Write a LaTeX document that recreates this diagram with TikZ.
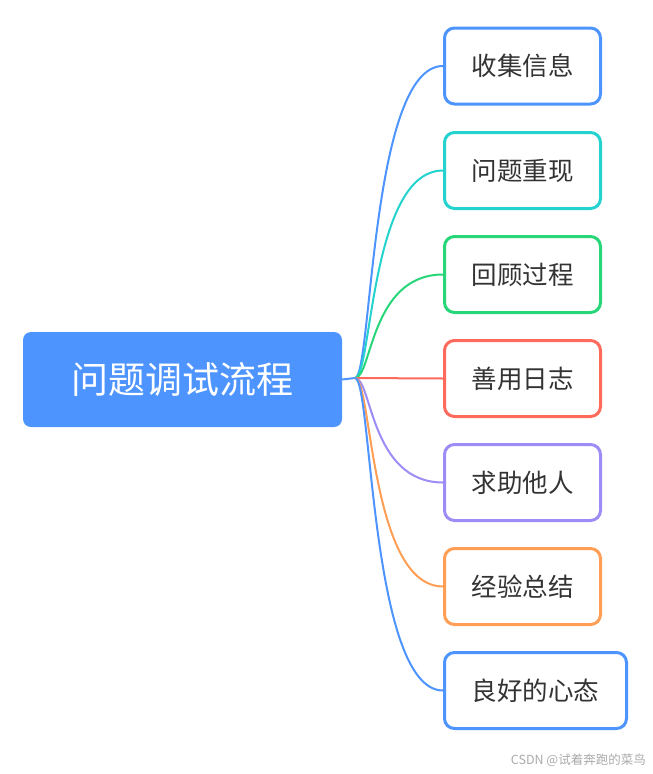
\documentclass[tikz,border=0pt]{standalone}
\usepackage{fontspec}
\setmainfont{Noto Sans CJK SC}
\newfontfamily\cjk{Noto Sans CJK SC}
\definecolor{cblue}{RGB}{77,148,255}
\definecolor{ccyan}{RGB}{36,210,206}
\definecolor{cgreen}{RGB}{40,214,122}
\definecolor{cred}{RGB}{255,106,92}
\definecolor{cpurple}{RGB}{156,140,246}
\definecolor{corange}{RGB}{255,158,84}
\definecolor{ctext}{RGB}{51,51,51}
\definecolor{cwm}{RGB}{170,170,170}
\tikzset{
  rootbox/.style={rectangle, rounded corners=8pt, fill=cblue, draw=none, minimum width=319pt, minimum height=95pt, text=white, font=\cjk\fontsize{37}{42}\selectfont, inner sep=0pt},
  childbox/.style={rectangle, rounded corners=10pt, draw=#1, line width=3pt, fill=white, minimum width=156pt, minimum height=76pt, text=ctext, font=\cjk\fontsize{25.5}{30}\selectfont, inner sep=0pt, anchor=west},
  link/.style={draw=#1, line width=2pt},
}
\begin{document}
\begin{tikzpicture}[x=1pt,y=-1pt]
\useasboundingbox (0,0) rectangle (653,774);
\node[rootbox] (root) at (182.5,379.5) {问题调试流程};
\coordinate (J) at (355,378);
\node[childbox=cblue] (c1) at (443,66) {收集信息};
\node[childbox=ccyan] (c2) at (443,170.5) {问题重现};
\node[childbox=cgreen] (c3) at (443,274.5) {回顾过程};
\node[childbox=cred] (c4) at (443,378.5) {善用日志};
\node[childbox=cpurple] (c5) at (443,482.5) {求助他人};
\node[childbox=corange] (c6) at (443,586.5) {经验总结};
\node[childbox=cblue, minimum width=182pt] (c7) at (443,690.5) {良好的心态};
\draw[link=cblue] (root.east) -- (J);
\draw[link=cblue] (J) .. controls (372,378) and (370,66) .. (c1.west);
\draw[link=ccyan] (J) .. controls (372,378) and (370,170.5) .. (c2.west);
\draw[link=cgreen] (J) .. controls (372,378) and (370,274.5) .. (c3.west);
\draw[link=cred] (J) -- (c4.west);
\draw[link=cpurple] (J) .. controls (372,378) and (370,482.5) .. (c5.west);
\draw[link=corange] (J) .. controls (372,378) and (370,586.5) .. (c6.west);
\draw[link=cblue] (J) .. controls (372,378) and (370,690.5) .. (c7.west);
\node[text=cwm, font=\cjk\fontsize{12.5}{14}\selectfont, anchor=east, inner sep=0pt] (wm) at (646,760) {CSDN @试着奔跑的菜鸟};
\end{tikzpicture}
\end{document}
